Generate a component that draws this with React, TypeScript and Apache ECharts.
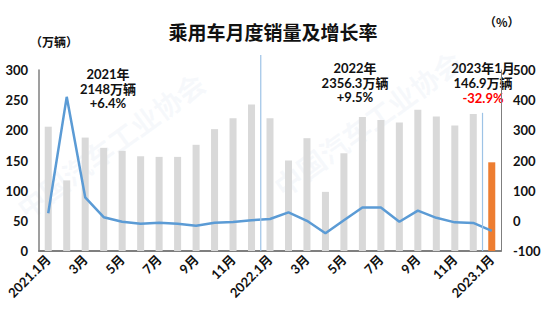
import React, { useEffect, useRef } from "react";
import * as echarts from "echarts";

const categories = [
  "2021.1月", "2月", "3月", "4月", "5月", "6月", "7月", "8月", "9月", "10月", "11月", "12月",
  "2022.1月", "2月", "3月", "4月", "5月", "6月", "7月", "8月", "9月", "10月", "11月", "12月",
  "2023.1月",
];
const sales = [206, 117, 188, 171, 166, 157, 156, 156, 176, 202, 220, 243, 220, 150, 187, 98, 162, 222, 217, 213, 234, 223, 208, 227, 147];
const growth = [25, 411, 78, 12, -3, -10, -6, -10, -16, -6, -4, 2, 6, 28, 0, -41, 2, 44, 44, -3, 34, 10, -5, -7, -33];
const highlightIndex = 24;
const leftTicks = [0, 300, 50];
const rightTicks = [-100, 500, 100];
// separators: between categories [a, a+1], from bottom up to given sales value
const separators = [
  { after: 11, top: 325 },
  { after: 23, top: 229 },
];

const FONT = "Lato, 'Noto Sans CJK SC', sans-serif";
const ANNO_FONT = "bold 13px Lato, 'Noto Sans CJK SC'";

export default function App() {
  const ref = useRef<HTMLDivElement>(null);
  useEffect(() => {
    document.body.style.margin = "0";
    const el = ref.current;
    if (!el) return;
    const chart = echarts.init(el, null, { renderer: "svg" });
    const option: any = {
      animation: false,
      backgroundColor: "#fff",
      title: {
        text: "乘用车月度销量及增长率",
        left: 268,
        textAlign: "center",
        top: 17,
        textStyle: { fontSize: 19, fontWeight: "bold", color: "#111", fontFamily: "'Noto Sans CJK SC', sans-serif" },
      },
      grid: { left: 39, right: 49, top: 70, bottom: 73, containLabel: false },
      xAxis: {
        type: "category",
        data: categories,
        axisLine: { show: true, lineStyle: { color: "#7f7f7f", width: 2 } },
        axisTick: { show: false },
        axisLabel: {
          interval: 1,
          rotate: 45,
          fontSize: 13,
          fontWeight: "bold",
          color: "#111",
          fontFamily: FONT,
          margin: 6,
        },
      },
      yAxis: [
        {
          type: "value",
          min: leftTicks[0],
          max: leftTicks[1],
          interval: leftTicks[2],
          splitLine: { show: false },
          axisLine: { show: true, lineStyle: { color: "#7f7f7f", width: 1.5 } },
          axisTick: { show: false },
          axisLabel: { fontSize: 13, fontWeight: "bold", color: "#111", fontFamily: FONT, margin: 11 },
        },
        {
          type: "value",
          min: rightTicks[0],
          max: rightTicks[1],
          interval: rightTicks[2],
          splitLine: { show: false },
          axisLine: { show: true, lineStyle: { color: "#7f7f7f", width: 1 } },
          axisTick: { show: false },
          axisLabel: { fontSize: 13, fontWeight: "bold", color: "#111", fontFamily: FONT, margin: 12 },
        },
      ],
      series: [
        {
          type: "bar",
          yAxisIndex: 0,
          barWidth: "38%",
          data: sales.map((v, i) => ({
            value: v,
            itemStyle: { color: i === highlightIndex ? "#ed7d31" : "#d9d9d9" },
          })),
          z: 2,
        },
        {
          type: "line",
          yAxisIndex: 1,
          data: growth,
          symbol: "none",
          lineStyle: { color: "#5b9bd5", width: 2.5 },
          itemStyle: { color: "#5b9bd5" },
          z: 3,
        },
      ],
      graphic: [
        {
          type: "text",
          left: 30,
          top: 35,
          style: { text: "（万辆）", font: "bold 12px 'Noto Sans CJK SC'", fill: "#111" },
        },
        {
          type: "text",
          left: 484,
          top: 15,
          style: { text: "（%）", font: "bold 12px 'Noto Sans CJK SC'", fill: "#111" },
        },
        {
          type: "text",
          x: 108,
          y: 67,
          style: {
            text: "2021年\n2148万辆\n+6.4%",
            align: "center",
            lineHeight: 14.5,
            font: ANNO_FONT,
            fill: "#111",
          },
          z: 10,
        },
        {
          type: "text",
          x: 355,
          y: 61,
          style: {
            text: "2022年\n2356.3万辆\n+9.5%",
            align: "center",
            lineHeight: 14.5,
            font: ANNO_FONT,
            fill: "#111",
          },
          z: 10,
        },
        {
          type: "group",
          x: 483,
          y: 61,
          z: 10,
          children: [
            {
              type: "text",
              x: 0,
              y: 0,
              style: {
                text: "2023年1月\n146.9万辆",
                align: "center",
                lineHeight: 14.5,
                font: ANNO_FONT,
                fill: "#111",
              },
            },
            {
              type: "text",
              x: 0,
              y: 30,
              style: {
                text: "-32.9%",
                align: "center",
                font: ANNO_FONT,
                fill: "#ff0000",
              },
            },
          ],
        },
        {
          type: "text",
          x: 28,
          y: 222,
          rotation: Math.PI / 5,
          silent: true,
          z: 0,
          style: {
            text: "中国汽车工业协会",
            font: "bold 28px 'Noto Sans CJK SC'",
            fill: "rgba(190,205,225,0.12)",
            textVerticalAlign: "bottom",
          },
        },
        {
          type: "text",
          x: 285,
          y: 200,
          rotation: Math.PI / 5,
          silent: true,
          z: 0,
          style: {
            text: "中国汽车工业协会",
            font: "bold 28px 'Noto Sans CJK SC'",
            fill: "rgba(190,205,225,0.12)",
            textVerticalAlign: "bottom",
          },
        },
      ],
    };
    chart.setOption(option);

    const seps = separators.map((s, k) => {
      const xa = chart.convertToPixel({ xAxisIndex: 0 }, s.after) as number;
      const xb = chart.convertToPixel({ xAxisIndex: 0 }, s.after + 1) as number;
      const x = (xa + xb) / 2;
      const y0 = chart.convertToPixel({ yAxisIndex: 0 }, 0) as number;
      const y1 = chart.convertToPixel({ yAxisIndex: 0 }, s.top) as number;
      return {
        type: "line",
        id: "sep" + k,
        z: 5,
        shape: { x1: x, y1: y0, x2: x, y2: y1 },
        style: { stroke: "#9dc3e6", lineWidth: 1.2 },
      };
    });
    chart.setOption({ graphic: [...option.graphic, ...seps] });

    return () => chart.dispose();
  }, []);
  return <div ref={ref} style={{ width: 550, height: 324 }} />;
}
